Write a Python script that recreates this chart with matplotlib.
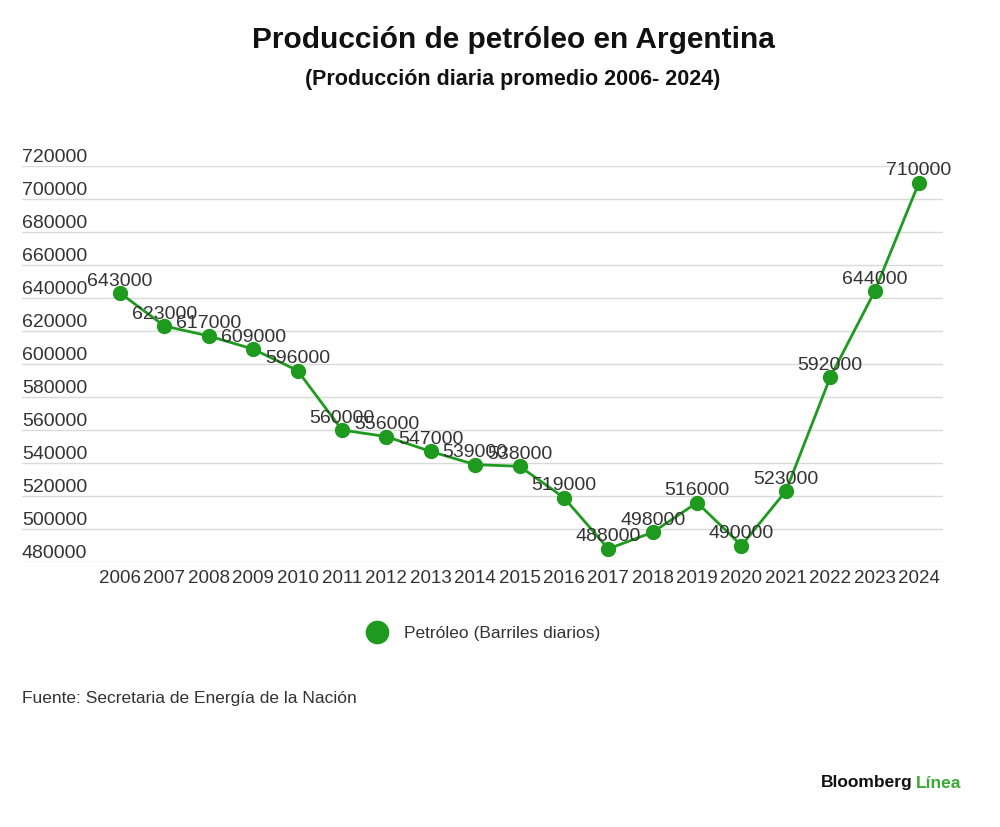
import matplotlib
matplotlib.use("Agg")
import matplotlib.pyplot as plt
from matplotlib.lines import Line2D

plt.rcParams['font.family'] = ['Liberation Sans', 'DejaVu Sans']

# data: average daily oil production, barrels per day
years = [2006, 2007, 2008, 2009, 2010, 2011, 2012, 2013, 2014, 2015,
         2016, 2017, 2018, 2019, 2020, 2021, 2022, 2023, 2024]
barrels = [643000, 623000, 617000, 609000, 596000, 560000, 556000, 547000,
           539000, 538000, 519000, 488000, 498000, 516000, 490000, 523000,
           592000, 644000, 710000]
y_ticks = [480000, 500000, 520000, 540000, 560000, 580000, 600000,
           620000, 640000, 660000, 680000, 700000, 720000]

green = '#1e9a1e'
txt = '#333333'

fig = plt.figure(figsize=(10, 8.27), dpi=100)
ax = fig.add_axes([0.022, 1 - 562 / 827, 0.921, 396 / 827])

ax.plot(years, barrels, color=green, lw=2, marker='o', ms=10, zorder=3)
for x, v in zip(years, barrels):
    ax.annotate(str(v), (x, v), xytext=(0, 2.5), textcoords='offset points',
                ha='center', va='bottom', fontsize=14, color=txt, zorder=4)

ax.set_xlim(2003.79, 2024.54)
ax.set_ylim(480000, 720000)
ax.set_yticks(y_ticks)
ax.set_yticklabels([])
ax.tick_params(axis='y', length=0)
ax.set_xticks(years)
ax.set_xticklabels([str(y) for y in years], fontsize=13.5, color=txt)
ax.tick_params(axis='x', length=0, pad=6)
ax.grid(axis='y', color='#d9d9d9', lw=1)
ax.set_axisbelow(True)
for s in ax.spines.values():
    s.set_visible(False)

# y labels sit on top of their gridline at the left edge
tr = ax.get_yaxis_transform()
for t in y_ticks:
    ax.text(0, t, str(t), transform=tr, ha='left', va='bottom',
            fontsize=14, color=txt)

fig.text(0.513, 1 - 40 / 827, 'Producción de petróleo en Argentina',
         ha='center', va='center', fontsize=21.5, fontweight='bold', color='#111111')
fig.text(0.513, 1 - 80 / 827, '(Producción diaria promedio 2006- 2024)',
         ha='center', va='center', fontsize=15.5, fontweight='bold', color='#111111')

handle = Line2D([], [], color=green, marker='o', ls='none', ms=16)
fig.legend([handle], ['Petróleo (Barriles diarios)'], loc='center',
           bbox_to_anchor=(0.48, 1 - 633 / 827), frameon=False,
           fontsize=12.5, labelcolor=txt, handletextpad=0.6)

fig.text(0.022, 1 - 698 / 827, 'Fuente: Secretaria de Energía de la Nación',
         ha='left', va='center', fontsize=12.5, color=txt)
fig.text(0.913, 1 - 783 / 827, 'Bloomberg', ha='right', va='center',
         fontsize=12.5, fontweight='bold', color='#111111')
fig.text(0.916, 1 - 783 / 827, 'Línea', ha='left', va='center',
         fontsize=12.5, fontweight='bold', color='#3aa935')

fig.savefig('out.png', dpi=100, facecolor='white')
